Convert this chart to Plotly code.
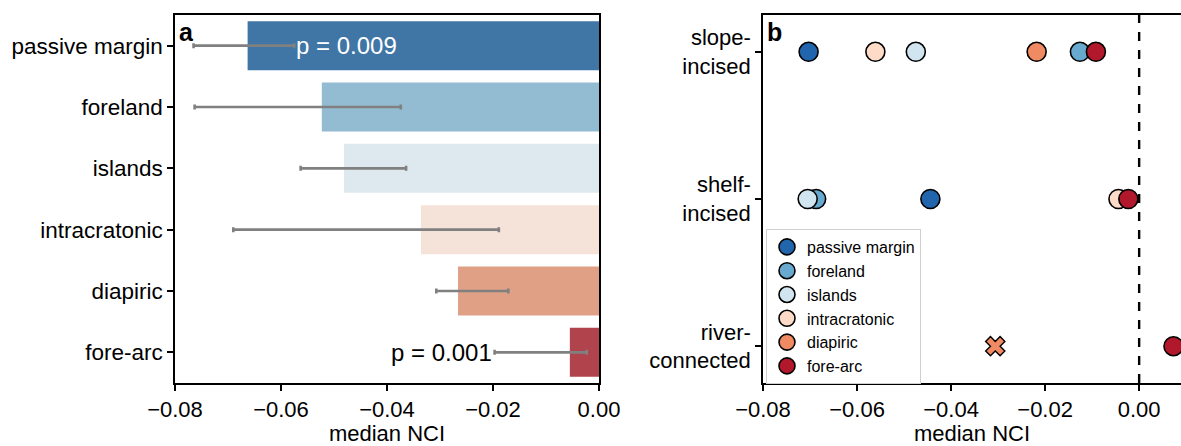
import plotly.graph_objects as go

# ---- data -------------------------------------------------------------
settings = ["passive margin", "foreland", "islands", "intracratonic", "diapiric", "fore-arc"]

# panel a: median NCI per tectonic setting with its confidence interval
median_nci = [-0.0663, -0.0523, -0.0481, -0.0336, -0.0266, -0.0055]
ci_low = [-0.0765, -0.0763, -0.0563, -0.0690, -0.0307, -0.0197]
ci_high = [-0.0575, -0.0374, -0.0364, -0.0189, -0.0171, -0.0023]
p_values = ["p = 0.009", None, None, None, None, "p = 0.001"]

# panel b: median NCI per canyon type and tectonic setting
canyon_types = ["slope-incised", "shelf-incised", "river-connected"]
canyon_labels = ["slope-<br>incised", "shelf-<br>incised", "river-<br>connected"]
slope_nci = [-0.0703, -0.0126, -0.0475, -0.0561, -0.0218, -0.0092]
shelf_nci = [-0.0444, -0.0687, -0.0705, -0.0044, None, -0.0023]
river_nci = [None, None, None, None, None, 0.0073]
# river-connected diapiric canyons are shown with a cross marker
river_cross_nci = [None, None, None, None, -0.0306, None]

x_ticks = [-0.08, -0.06, -0.04, -0.02, 0.0]
x_tick_labels = ["\u22120.08", "\u22120.06", "\u22120.04", "\u22120.02", "0.00"]

# ---- styling ----------------------------------------------------------
bar_colors = ["#3f76a6", "#93bcd2", "#dde8ef", "#f5e3d9", "#e0a086", "#b0434c"]
point_colors = ["#2166ac", "#67a9cf", "#d1e5f0", "#fddbc7", "#ef8a62", "#b2182b"]
FONT = "Liberation Sans, Arial, sans-serif"
W, H = 1181, 446

fig = go.Figure()

# panel a: bars with gray CI whiskers
fig.add_trace(go.Bar(
    x=median_nci, y=settings, orientation="h",
    marker=dict(color=bar_colors, line=dict(width=0)),
    width=0.8,
    error_x=dict(
        type="data", symmetric=False,
        array=[h - m for h, m in zip(ci_high, median_nci)],
        arrayminus=[m - l for l, m in zip(ci_low, median_nci)],
        color="#808080", thickness=2.6, width=2.5,
    ),
    xaxis="x", yaxis="y", showlegend=False,
))

# panel b: one scatter trace per tectonic setting
for i, name in enumerate(settings):
    xs, ys = [], []
    for vals, ctype in zip((slope_nci, shelf_nci, river_nci), canyon_types):
        if vals[i] is not None:
            xs.append(vals[i])
            ys.append(ctype)
    fig.add_trace(go.Scatter(
        x=xs, y=ys, mode="markers", name=name, legendgroup=name,
        marker=dict(size=19, color=point_colors[i], line=dict(color="black", width=1.6)),
        xaxis="x2", yaxis="y2",
    ))

for i, name in enumerate(settings):
    if river_cross_nci[i] is not None:
        fig.add_trace(go.Scatter(
            x=[river_cross_nci[i]], y=[canyon_types[2]], mode="markers",
            legendgroup=name, showlegend=False,
            marker=dict(symbol="x", size=17, color=point_colors[i],
                        line=dict(color="black", width=1.4)),
            xaxis="x2", yaxis="y2",
        ))

# zero reference line in panel b
fig.add_shape(type="line", xref="x2", yref="y2 domain", x0=0, x1=0, y0=0, y1=1,
              line=dict(color="black", width=2.4, dash="dash"))

# p-value labels next to the whiskers
annotations = []
for i, txt in enumerate(p_values):
    if txt is None:
        continue
    if i == 0:
        annotations.append(dict(x=ci_high[i], y=settings[i], xref="x", yref="y", text=txt,
                                showarrow=False, xanchor="left", xshift=0,
                                font=dict(size=24, color="white", family=FONT)))
    else:
        annotations.append(dict(x=ci_low[i], y=settings[i], xref="x", yref="y", text=txt,
                                showarrow=False, xanchor="right", xshift=-1,
                                font=dict(size=24, color="black", family=FONT)))

# panel letters
for ref, letter in (("x", "a"), ("x2", "b")):
    annotations.append(dict(x=0.005, y=1.0, xref=f"{ref} domain", yref="paper", text=f"<b>{letter}</b>",
                            showarrow=False, xanchor="left", yanchor="top", yshift=-1,
                            font=dict(size=25, color="black", family=FONT)))

axis_common = dict(
    showgrid=False, zeroline=False, showline=True, linecolor="black", linewidth=1.5,
    ticks="outside", ticklen=6, tickwidth=1.5, tickcolor="black",
    tickfont=dict(size=22, color="black", family=FONT), automargin=False,
)
ylabel_font = dict(size=22.5, color="black", family=FONT)

left_dom = [175 / W, 599 / W]
right_dom = [763 / W, 1.0]

fig.update_layout(
    width=W, height=H,
    margin=dict(l=0, r=0, t=15, b=63),
    paper_bgcolor="white", plot_bgcolor="white",
    font=dict(family=FONT, color="black"),
    xaxis=dict(domain=left_dom, range=[-0.08, 0.0], tickvals=x_ticks, ticktext=x_tick_labels,
               mirror=True, anchor="y",
               title=dict(text="median NCI", font=dict(size=22, family=FONT), standoff=6),
               **axis_common),
    yaxis=dict(domain=[0, 1], type="category", categoryorder="array", categoryarray=settings,
               range=[5.5, -0.5], mirror=True, anchor="x",
               **{**axis_common, "tickfont": ylabel_font}),
    xaxis2=dict(domain=right_dom, range=[-0.08, 0.0089], tickvals=x_ticks, ticktext=x_tick_labels,
                mirror=True, anchor="y2",
                title=dict(text="median NCI", font=dict(size=22, family=FONT), standoff=6),
                **axis_common),
    yaxis2=dict(domain=[0, 1], type="category", categoryorder="array", categoryarray=canyon_types,
                tickvals=canyon_types, ticktext=canyon_labels,
                range=[2.25, -0.25], mirror=False, anchor="x2", **axis_common),
    legend=dict(x=766 / W, y=(383 - 229) / 368, xanchor="left", yanchor="top",
                bgcolor="rgba(255,255,255,0.85)", bordercolor="#d0d0d0", borderwidth=1,
                font=dict(size=16, color="black", family=FONT), tracegroupgap=0),
    annotations=annotations,
    bargap=0.2,
)

fig.write_html("out.html")
